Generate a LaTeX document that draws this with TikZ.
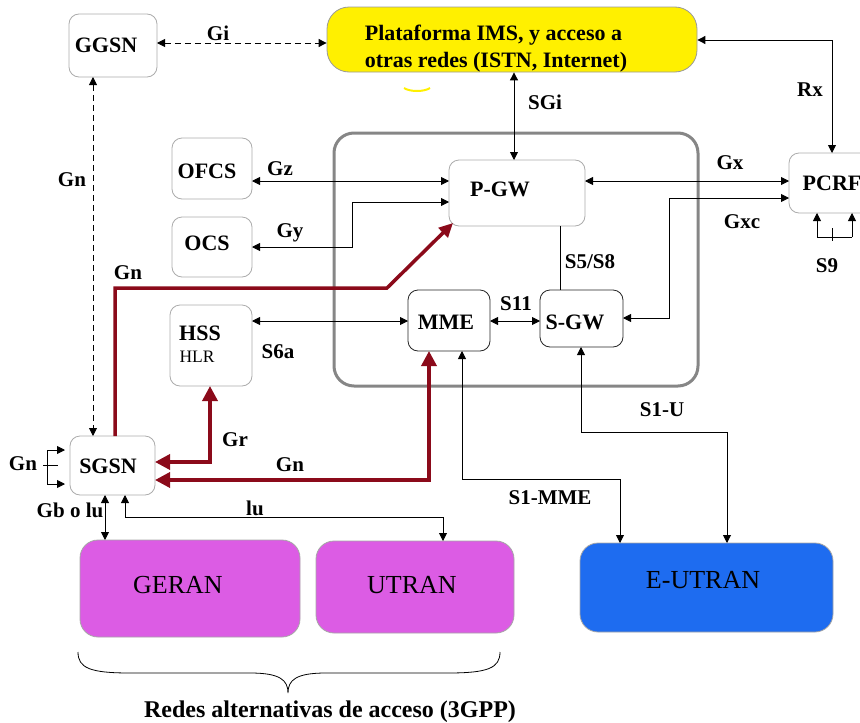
\documentclass[tikz,border=0pt]{standalone}
\usepackage{fontspec}
\setmainfont{Liberation Serif}
\usetikzlibrary{arrows.meta,calc}
\definecolor{imsyellow}{RGB}{255,240,0}
\definecolor{magbox}{RGB}{220,92,228}
\definecolor{eblue}{RGB}{30,108,240}
\definecolor{gnred}{RGB}{139,10,26}
\begin{document}
\begin{tikzpicture}[x=1pt,y=-1pt,
  box/.style={draw=gray!65,line width=0.8pt,rounded corners=10pt,inner sep=0pt,outer sep=0pt,fill=white},
  dbox/.style={box,draw=black!85},
  txt/.style={font=\fontsize{22}{26}\selectfont\bfseries,inner sep=0pt},
  lbl/.style={font=\fontsize{21}{24}\selectfont\bfseries,inner sep=0pt},
  rtxt/.style={font=\fontsize{26}{30}\selectfont,inner sep=0pt},
  ar/.style={line width=0.9pt,{Triangle[length=8pt,width=8pt]}-{Triangle[length=8pt,width=8pt]}},
  ar1/.style={line width=0.9pt,-{Triangle[length=8pt,width=8pt]}},
  rd/.style={draw=gnred,line width=3.5pt,{Triangle[length=15pt,width=15pt]}-{Triangle[length=15pt,width=15pt]}},
  rd1/.style={draw=gnred,line width=3.5pt,-{Triangle[length=14pt,width=13pt]}},
]
\useasboundingbox (0,0) rectangle (860,723);

% EPC frame
\node[draw=gray!95,line width=3pt,rounded corners=20pt,minimum width=364pt,minimum height=253pt,inner sep=0pt] (epc) at (516,259.5) {};

% boxes
\node[box,minimum width=88pt,minimum height=63pt] (ggsn) at (113,45.5) {};
\node[txt] (ggsnt) at (106,45) {GGSN};
\node[draw=gray!80,fill=imsyellow,line width=0.8pt,rounded corners=22pt,minimum width=370pt,minimum height=65pt,inner sep=0pt] (ims) at (512,39.5) {};
\node[txt,align=left,font=\fontsize{22}{27}\selectfont\bfseries] (imst) at (496,48.5) {Plataforma IMS, y acceso a\\otras redes (ISTN, Internet)};
\draw[imsyellow,line width=2pt] (404,88) .. controls (410,92) and (424,92) .. (430,88);

\node[box,minimum width=136pt,minimum height=66pt] (pgw) at (517,193) {};
\node[txt] (pgwt) at (500,189) {P-GW};
\node[box,minimum width=86pt,minimum height=60pt] (pcrf) at (832,183) {};
\node[txt] (pcrft) at (832,183) {PCRF};
\node[box,minimum width=80pt,minimum height=61pt] (ofcs) at (212,168.5) {};
\node[txt] (ofcst) at (207,171) {OFCS};
\node[box,minimum width=80pt,minimum height=60pt] (ocs) at (212,247) {};
\node[txt] (ocst) at (207,243) {OCS};
\node[box,minimum width=82pt,minimum height=81pt] (hss) at (211,345.5) {};
\node[txt] (hsst) at (200,333) {HSS};
\node[font=\fontsize{17.5}{20}\selectfont,inner sep=0pt] (hlrt) at (197,357) {HLR};
\node[dbox,minimum width=82pt,minimum height=61pt] (mme) at (449,320.5) {};
\node[txt] (mmet) at (446,322) {MME};
\node[dbox,minimum width=83pt,minimum height=57pt] (sgw) at (581.5,318.5) {};
\node[txt] (sgwt) at (575,322) {S-GW};
\node[box,minimum width=85pt,minimum height=59pt] (sgsn) at (112.5,465.5) {};
\node[txt] (sgsnt) at (108,466) {SGSN};

\node[box,draw=gray!70,fill=magbox,rounded corners=18pt,minimum width=220pt,minimum height=97pt] (geran) at (190,588.5) {};
\node[rtxt] (gerant) at (178,585) {GERAN};
\node[box,draw=gray!70,fill=magbox,rounded corners=18pt,minimum width=198pt,minimum height=92pt] (utran) at (415,587) {};
\node[rtxt] (utrant) at (412,585) {UTRAN};
\node[box,draw=gray!70,fill=eblue,rounded corners=18pt,minimum width=253pt,minimum height=89pt] (eutran) at (706.5,587.5) {};
\node[rtxt] (eutrant) at (703,580) {E-UTRAN};

% brace
\draw[line width=0.8pt] (78,652) .. controls (78,668) and (90,673) .. (130,673) -- (250,673) .. controls (280,673) and (288,680) .. (288,693)
  .. controls (288,680) and (296,673) .. (326,673) -- (448,673) .. controls (488,673) and (500,668) .. (500,652);
\node[font=\fontsize{24}{28}\selectfont\bfseries,inner sep=0pt] (redes) at (330,712) {Redes alternativas de acceso (3GPP)};

% black connectors
\draw[ar,dashed,dash pattern=on 6pt off 4pt] (ggsn.east |- 0,43) -- (ims.west |- 0,43);
\draw[ar,dashed,dash pattern=on 6pt off 4pt] (ggsn.south -| 93,0) -- (sgsn.north -| 93,0);
\draw[ar] (pgw.north -| 514,0) -- (ims.south -| 514,0);
\draw[ar] (pcrf.north -| 832,0) |- (ims.east |- 0,40);
\draw[ar] (ofcs.east |- 0,181) -- (pgw.west |- 0,181);
\coordinate (gyk) at (352,202);
\draw[ar] (ocs.east |- 0,247) -| (gyk) -- (pgw.west |- 0,202);
\draw[ar] (pgw.east |- 0,181) -- (pcrf.west |- 0,181);
\coordinate (gxck) at (669,198);
\draw[ar] (sgw.east |- 0,318) -| (gxck) -- (pcrf.west |- 0,198);
\coordinate (s9a) at (817,237);
\coordinate (s9b) at (852,237);
\draw[line width=0.9pt] (s9a) -- (s9b);
\draw[line width=0.9pt] (832,228) -- (832,241);
\draw[ar1] (s9a) -- (pcrf.south -| s9a);
\draw[ar1] (s9b) -- (pcrf.south -| s9b);
\draw[line width=0.9pt] (pgw.south -| 560,0) -- (sgw.north -| 560,0);
\draw[ar] (mme.east |- 0,321) -- (sgw.west |- 0,321);
\draw[ar] (hss.east |- 0,321) -- (mme.west |- 0,321);
\coordinate (s1m) at (620,479);
\draw[ar] (mme.south -| 462,0) |- (s1m) -- (eutran.north -| s1m);
\coordinate (s1u) at (727,432);
\draw[ar] (sgw.south -| 581,0) |- (s1u) -- (eutran.north -| s1u);
\draw[ar] (sgsn.south -| 105,0) -- (geran.north -| 105,0);
\coordinate (iuk) at (443,517);
\draw[ar] (sgsn.south -| 125,0) |- (iuk) -- (utran.north -| iuk);
% Gn loop
\coordinate (gna) at (47,450);
\coordinate (gnb) at (47,484);
\draw[line width=0.9pt] (gna) -- (gnb);
\draw[line width=0.9pt] (43,465) -- (58,465);
\draw[ar1,shorten >=5pt] (gna) -- (sgsn.west |- gna);
\draw[ar1,shorten >=5pt] (gnb) -- (sgsn.west |- gnb);

% red connectors
\coordinate (gnk) at (387,288);
\draw[rd1] (sgsn.north -| 115,0) |- (gnk) -- ($(pgw.south west)+(4,-3)$);
\draw[rd] (hss.south -| 210,0) |- (sgsn.east |- 0,462);
\draw[rd] (mme.south -| 429,0) |- (sgsn.east |- 0,480);

% labels
\node[lbl] (lgi) at (218,33) {Gi};
\node[lbl] (lsgi) at (545,102) {SGi};
\node[lbl] (lrx) at (810,90) {Rx};
\node[lbl] (lgz) at (280,169) {Gz};
\node[lbl] (lgy) at (290,233) {Gy};
\node[lbl] (lgx) at (730,163) {Gx};
\node[lbl] (lgxc) at (742,222) {Gxc};
\node[lbl] (ls9) at (827,266) {S9};
\node[lbl] (ls5) at (590,262) {S5/S8};
\node[lbl] (ls11) at (516,304) {S11};
\node[lbl] (ls6a) at (278,352) {S6a};
\node[lbl] (ls1u) at (662,410) {S1-U};
\node[lbl] (ls1m) at (550,498) {S1-MME};
\node[lbl] (lgn1) at (72,180) {Gn};
\node[lbl] (lgn2) at (128,273) {Gn};
\node[lbl] (lgr) at (235,440) {Gr};
\node[lbl] (lgn3) at (290,465) {Gn};
\node[lbl] (lgn4) at (23,464) {Gn};
\node[lbl] (lgb) at (70,510) {Gb o lu};
\node[lbl] (liu) at (255,508) {lu};
\end{tikzpicture}
\end{document}
